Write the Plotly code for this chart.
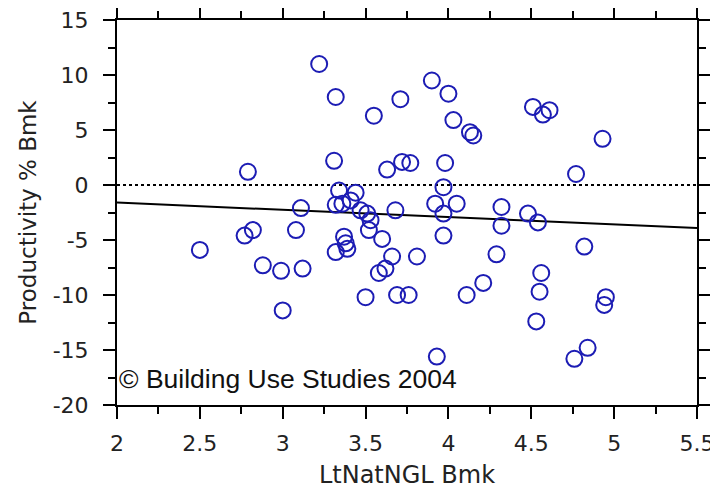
import plotly.graph_objects as go

lt_nat_ngl = [3.22, 3.32, 3.55, 3.71, 2.79, 3.31, 3.63, 3.72, 3.77, 3.90, 4.00, 4.03,
              4.13, 4.15, 4.51, 4.57, 4.61, 4.93, 4.77, 3.98, 3.97, 3.34, 3.44, 3.41,
              3.11, 3.32, 3.36, 3.47, 3.51, 3.53, 3.52, 3.60, 3.68, 3.08, 3.37, 3.38,
              3.32, 3.39, 3.66, 3.81, 3.62, 3.58, 3.50, 3.69, 3.76, 2.82, 2.77, 2.50,
              2.88, 2.99, 3.12, 3.00, 3.92, 4.05, 3.97, 3.97, 4.32, 4.32, 4.48, 4.54,
              4.11, 4.21, 4.29, 4.82, 4.56, 4.55, 4.53, 4.95, 4.94, 4.84, 4.76, 3.93]
productivity = [11.0, 8.0, 6.3, 7.8, 1.2, 2.2, 1.4, 2.1, 2.0, 9.5, 8.3, 5.9,
                4.8, 4.5, 7.1, 6.4, 6.8, 4.2, 1.0, 2.0, -0.2, -0.5, -0.7, -1.4,
                -2.1, -1.8, -1.7, -2.3, -2.6, -3.2, -4.1, -4.9, -2.3, -4.1, -4.7, -5.3,
                -6.1, -5.8, -6.5, -6.5, -7.6, -8.0, -10.2, -10.0, -10.0, -4.1, -4.6, -5.9,
                -7.3, -7.8, -7.6, -11.4, -1.7, -1.7, -2.6, -4.6, -2.0, -3.7, -2.6, -3.4,
                -10.0, -8.9, -6.3, -5.6, -8.0, -9.7, -12.4, -10.2, -10.9, -14.8, -15.8, -15.6]

trend_x = [2.0, 5.5]
trend_y = [-1.6, -3.9]
zero_x = [2.0, 5.5]
zero_y = [0.0, 0.0]

x_ticks = [2, 2.5, 3, 3.5, 4, 4.5, 5, 5.5]
y_ticks = [15, 10, 5, 0, -5, -10, -15, -20]

LABEL_FONT = "DejaVu Sans, Verdana, sans-serif"

fig = go.Figure()
fig.add_trace(go.Scatter(x=zero_x, y=zero_y, mode="lines",
                         line=dict(color="black", width=2, dash="dot"),
                         hoverinfo="skip", showlegend=False))
fig.add_trace(go.Scatter(x=trend_x, y=trend_y, mode="lines",
                         line=dict(color="black", width=2),
                         hoverinfo="skip", showlegend=False))
fig.add_trace(go.Scatter(x=lt_nat_ngl, y=productivity, mode="markers",
                         marker=dict(symbol="circle-open", size=16,
                                     color="#1c1cb4", line=dict(width=2)),
                         showlegend=False))

fig.add_annotation(text="© Building Use Studies 2004", xref="paper", yref="paper",
                   x=0.0, y=0.068, xanchor="left", yanchor="middle", showarrow=False,
                   font=dict(family="Liberation Sans, Arial", size=26.5, color="#111111"))

axis_common = dict(showgrid=False, zeroline=False, showline=True, linecolor="black",
                   linewidth=2, mirror="allticks", ticks="outside", ticklen=12,
                   tickwidth=2, tickcolor="black", automargin=False,
                   ticklabeloverflow="allow",
                   tickfont=dict(family=LABEL_FONT, size=22, color="#222222"))

fig.update_xaxes(range=[2, 5.5], tickvals=x_ticks, ticktext=[str(v) for v in x_ticks],
                 ticklabelstandoff=6,
                 title=dict(text="LtNatNGL Bmk", standoff=11,
                            font=dict(family=LABEL_FONT, size=24, color="#222222")),
                 minor=dict(ticks="outside", ticklen=7, tickwidth=2, tickcolor="black",
                            dtick=0.25, tick0=2),
                 **axis_common)
fig.update_yaxes(range=[-20, 15], tickvals=y_ticks, ticktext=[str(v) for v in y_ticks],
                 ticklabelstandoff=10,
                 title=dict(text="Productivity % Bmk", standoff=10,
                            font=dict(family=LABEL_FONT, size=23, color="#222222")),
                 minor=dict(ticks="outside", ticklen=7, tickwidth=2, tickcolor="black",
                            dtick=2.5, tick0=0),
                 **axis_common)

# the page adds an 8px body margin, so the margins are reduced to keep the plot
# area at the reference's pixel position
fig.update_layout(width=718, height=488, margin=dict(l=109, r=29, t=12, b=91),
                  plot_bgcolor="white", paper_bgcolor="white", showlegend=False)

fig.write_html("out.html")
